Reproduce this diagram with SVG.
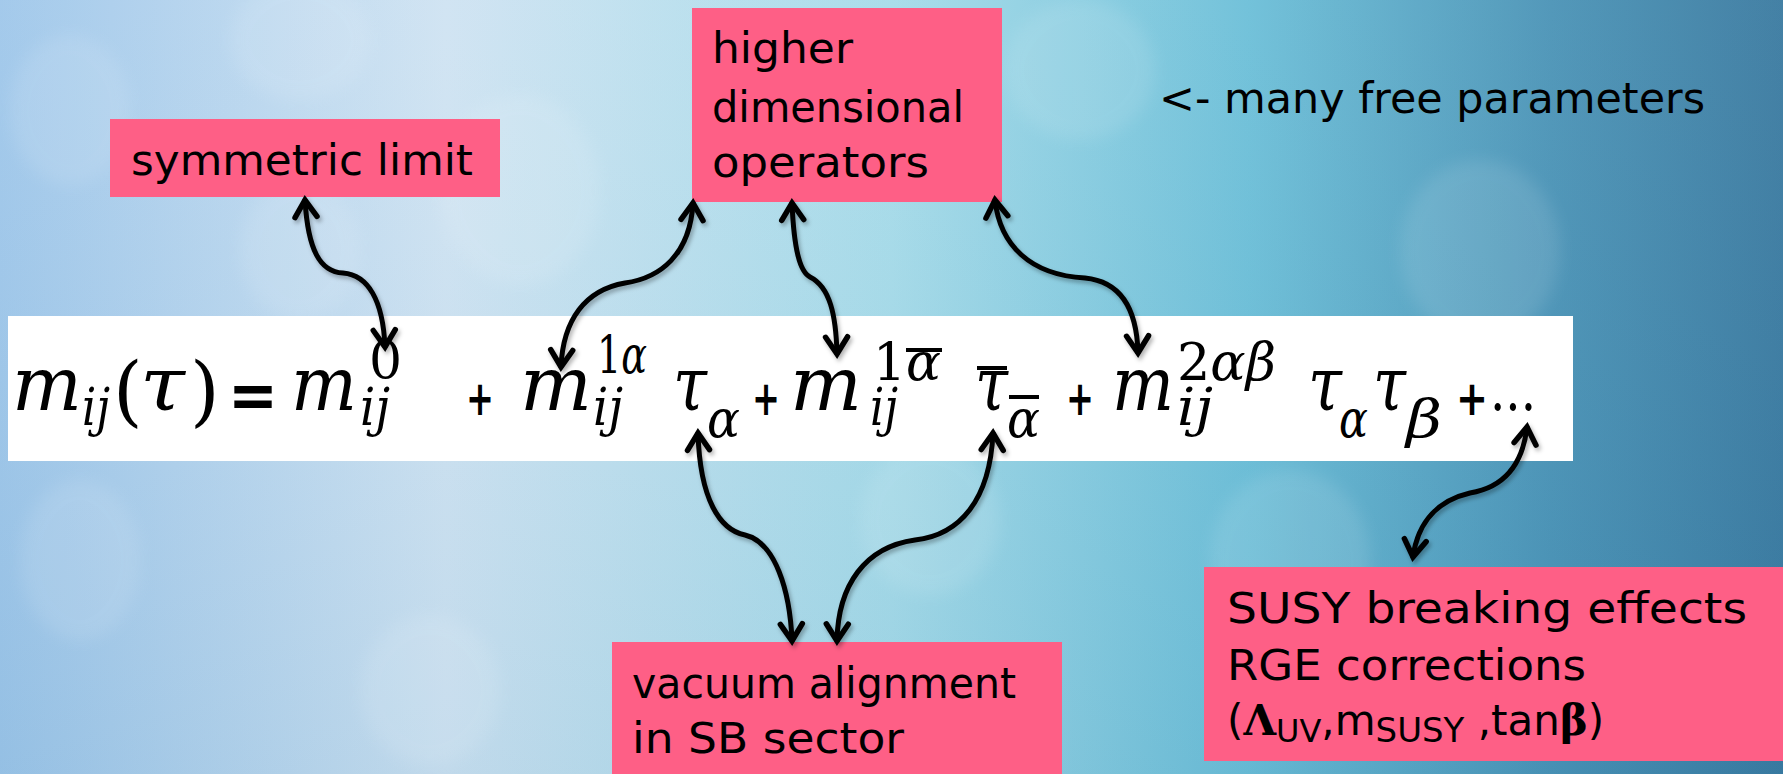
<svg xmlns="http://www.w3.org/2000/svg" width="1783" height="774" viewBox="0 0 1783 774">
<style>
.box{fill:#fe5f86}
.lbl{font-family:"DejaVu Sans","Liberation Sans",sans-serif;font-size:42px;fill:#000}
.mi{font-family:"DejaVu Serif","Liberation Serif",serif;font-style:italic;fill:#000}
.mu{font-family:"DejaVu Serif","Liberation Serif",serif;font-style:normal;fill:#000}
.op{font-family:"DejaVu Sans","Liberation Sans",sans-serif;font-weight:bold;font-style:normal;fill:#000}
.big{font-size:74px}
.sm{font-size:52px}
.arr{fill:none;stroke:#000;stroke-width:5;stroke-linecap:round;marker-start:url(#ah);marker-end:url(#ah)}
</style>
<defs>
<linearGradient id="bgx" x1="0" y1="0" x2="1" y2="0">
<stop offset="0" stop-color="#9fc7ea"/>
<stop offset="0.25" stop-color="#cfe3f2"/>
<stop offset="0.5" stop-color="#a6dbe9"/>
<stop offset="0.7" stop-color="#6cbfd8"/>
<stop offset="0.87" stop-color="#4a93b6"/>
<stop offset="1" stop-color="#3a7aa0"/>
</linearGradient>
<linearGradient id="bgy" x1="0" y1="0" x2="0" y2="1">
<stop offset="0" stop-color="#ffffff" stop-opacity="0.05"/>
<stop offset="1" stop-color="#1c6a9a" stop-opacity="0.08"/>
</linearGradient>
<filter id="blur" x="-50%" y="-50%" width="200%" height="200%"><feGaussianBlur stdDeviation="8"/></filter>
<filter id="sh" x="-20%" y="-20%" width="140%" height="140%"><feDropShadow dx="2" dy="3" stdDeviation="2" flood-color="#000" flood-opacity="0.3"/></filter>
<marker id="ah" viewBox="-22 -15 28 30" refX="0" refY="0" markerWidth="28" markerHeight="30" markerUnits="userSpaceOnUse" orient="auto-start-reverse">
<path d="M-17,-11 L0,0 L-17,11" fill="none" stroke="#000" stroke-width="5.5" stroke-linejoin="miter" stroke-linecap="round"/>
</marker>
</defs>

<g id="background">
<rect x="0" y="0" width="1783" height="774" fill="url(#bgx)"/>
<rect x="0" y="0" width="1783" height="774" fill="url(#bgy)"/>
<g fill="#ffffff" opacity="0.1" filter="url(#blur)">
<ellipse cx="70" cy="110" rx="60" ry="75"/>
<ellipse cx="300" cy="40" rx="70" ry="60"/>
<ellipse cx="300" cy="250" rx="60" ry="70"/>
<ellipse cx="520" cy="190" rx="80" ry="95"/>
<ellipse cx="820" cy="110" rx="70" ry="85"/>
<ellipse cx="1080" cy="70" rx="75" ry="70"/>
<ellipse cx="1480" cy="250" rx="80" ry="90"/>
<ellipse cx="80" cy="560" rx="60" ry="80"/>
<ellipse cx="430" cy="690" rx="70" ry="75"/>
<ellipse cx="930" cy="520" rx="70" ry="75"/>
<ellipse cx="1290" cy="560" rx="80" ry="90"/>
</g>
</g>

<g id="equation">
<rect x="8" y="316" width="1565" height="145" fill="#ffffff"/>
<text class="mi big" x="12" y="410" textLength="70" lengthAdjust="spacingAndGlyphs">m</text>
<text class="mi sm" x="82" y="425" textLength="28" lengthAdjust="spacingAndGlyphs">ij</text>
<text class="mu" font-size="76" x="113" y="417">(</text>
<text class="mi big" x="140" y="410" textLength="45" lengthAdjust="spacingAndGlyphs">τ</text>
<text class="mu" font-size="76" x="190" y="417">)</text>
<text class="op" font-size="64" x="228" y="417" textLength="50" lengthAdjust="spacingAndGlyphs">=</text>
<text class="mi big" x="291" y="410" textLength="66" lengthAdjust="spacingAndGlyphs">m</text>
<text class="mu sm" x="369" y="378">0</text>
<text class="mi sm" x="360" y="425" textLength="30" lengthAdjust="spacingAndGlyphs">ij</text>
<text class="op" font-size="48" x="466" y="415" textLength="28" lengthAdjust="spacingAndGlyphs">+</text>
<text class="mi big" x="520" y="410" textLength="72" lengthAdjust="spacingAndGlyphs">m</text>
<text class="mi sm" x="597" y="373" textLength="50" lengthAdjust="spacingAndGlyphs"><tspan class="mu">1</tspan><tspan>α</tspan></text>
<text class="mi sm" x="593" y="425" textLength="30" lengthAdjust="spacingAndGlyphs">ij</text>
<text class="mi big" x="673" y="410" textLength="34" lengthAdjust="spacingAndGlyphs">τ</text>
<text class="mi sm" x="707" y="437" textLength="33" lengthAdjust="spacingAndGlyphs">α</text>
<text class="op" font-size="48" x="752" y="415" textLength="28" lengthAdjust="spacingAndGlyphs">+</text>
<text class="mi big" x="790" y="410" textLength="72" lengthAdjust="spacingAndGlyphs">m</text>
<text class="mi sm" x="873" y="380" textLength="68" lengthAdjust="spacingAndGlyphs"><tspan class="mu">1</tspan><tspan>α</tspan></text>
<rect x="906" y="348" width="36" height="4" fill="#000"/>
<text class="mi sm" x="870" y="425" textLength="28" lengthAdjust="spacingAndGlyphs">ij</text>
<text class="mi big" x="975" y="410" textLength="33" lengthAdjust="spacingAndGlyphs">τ</text>
<rect x="977" y="366" width="30" height="4" fill="#000"/>
<text class="mi sm" x="1007" y="437" textLength="33" lengthAdjust="spacingAndGlyphs">α</text>
<rect x="1009" y="395" width="30" height="4" fill="#000"/>
<text class="op" font-size="48" x="1066" y="415" textLength="28" lengthAdjust="spacingAndGlyphs">+</text>
<text class="mi big" x="1112" y="410" textLength="62" lengthAdjust="spacingAndGlyphs">m</text>
<text class="mi sm" x="1177" y="380" textLength="99" lengthAdjust="spacingAndGlyphs"><tspan class="mu">2</tspan><tspan>αβ</tspan></text>
<text class="mi sm" x="1177" y="425" textLength="36" lengthAdjust="spacingAndGlyphs">ij</text>
<text class="mi big" x="1308" y="410" textLength="34" lengthAdjust="spacingAndGlyphs">τ</text>
<text class="mi sm" x="1339" y="437" textLength="29" lengthAdjust="spacingAndGlyphs">α</text>
<text class="mi big" x="1373" y="410" textLength="33" lengthAdjust="spacingAndGlyphs">τ</text>
<text class="mi sm" x="1406" y="437" textLength="36" lengthAdjust="spacingAndGlyphs">β</text>
<text class="op" font-size="48" x="1456" y="415" textLength="32" lengthAdjust="spacingAndGlyphs">+</text>
<text class="mu" font-size="62" x="1490" y="410" textLength="46" lengthAdjust="spacingAndGlyphs">...</text>
</g>

<g id="node-symmetric-limit">
<rect class="box" x="110" y="119" width="390" height="78"/>
<text class="lbl" x="131" y="175" textLength="342" lengthAdjust="spacingAndGlyphs">symmetric limit</text>
</g>

<g id="node-higher-dimensional">
<rect class="box" x="692" y="8" width="310" height="194"/>
<text class="lbl" x="712" y="63" textLength="141" lengthAdjust="spacingAndGlyphs">higher</text>
<text class="lbl" x="712" y="122" textLength="252" lengthAdjust="spacingAndGlyphs">dimensional</text>
<text class="lbl" x="712" y="177" textLength="217" lengthAdjust="spacingAndGlyphs">operators</text>
</g>

<g id="note-free-parameters">
<text class="lbl" x="1159" y="113" textLength="546" lengthAdjust="spacingAndGlyphs">&lt;- many free parameters</text>
</g>

<g id="node-vacuum-alignment">
<rect class="box" x="612" y="642" width="450" height="140"/>
<text class="lbl" x="632" y="698" textLength="384" lengthAdjust="spacingAndGlyphs">vacuum alignment</text>
<text class="lbl" x="632" y="753" textLength="272" lengthAdjust="spacingAndGlyphs">in SB sector</text>
</g>

<g id="node-susy-breaking">
<rect class="box" x="1204" y="567" width="590" height="194"/>
<text class="lbl" x="1227" y="623" textLength="520" lengthAdjust="spacingAndGlyphs">SUSY breaking effects</text>
<text class="lbl" x="1227" y="680" textLength="359" lengthAdjust="spacingAndGlyphs">RGE corrections</text>
<text class="lbl" x="1227" y="735">(<tspan font-family="'DejaVu Serif',serif" font-weight="bold">Λ</tspan><tspan y="742" font-size="32">UV</tspan><tspan y="735">,m</tspan><tspan y="742" font-size="34">SUSY</tspan><tspan y="735"> ,tan</tspan><tspan font-family="'DejaVu Serif',serif" font-weight="bold">β</tspan>)</text>
</g>

<g id="connectors" filter="url(#sh)">
<path class="arr" d="M305,200 C308,250 320,272 343,273 C368,275 383,300 385,347"/>
<path class="arr" d="M693,203 C690,255 660,278 625,283 C585,290 563,320 561,367"/>
<path class="arr" d="M792,203 C794,250 800,272 810,277 C830,287 836,315 837,354"/>
<path class="arr" d="M995,200 C1000,245 1030,275 1085,278 C1125,282 1137,315 1138,353"/>
<path class="arr" d="M698,433 C700,500 720,530 745,535 C775,542 790,590 792,641"/>
<path class="arr" d="M993,433 C990,500 960,535 915,540 C865,547 838,585 837,641"/>
<path class="arr" d="M1527,427 C1522,470 1500,488 1470,493 C1440,500 1418,520 1413,557"/>
</g>
</svg>
